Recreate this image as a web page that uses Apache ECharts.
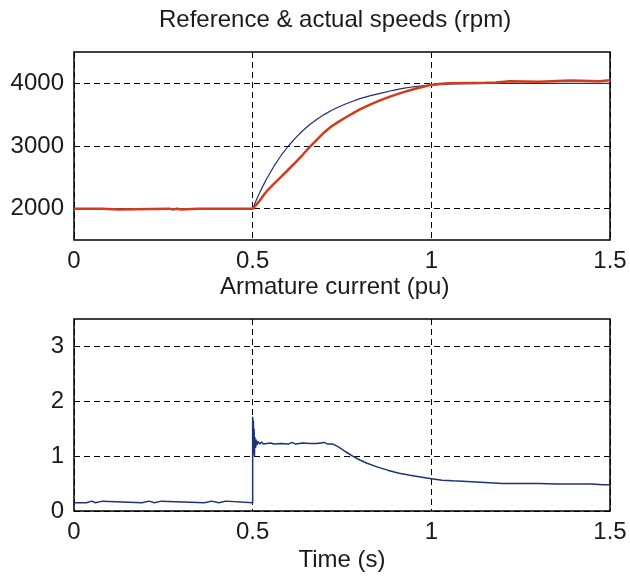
<!DOCTYPE html>
<html>
<head>
<meta charset="utf-8">
<script src="https://cdn.jsdelivr.net/npm/echarts@6/dist/echarts.min.js"></script>
<style>html,body{margin:0;padding:0;background:#fff}#c{width:630px;height:583px}</style>
</head>
<body>
<div id="c"></div>
<script>
// Speed reference (rpm)
const refT = [0, 0.5, 0.51, 0.52, 0.53, 0.54, 0.56, 0.58, 0.60, 0.62, 0.64, 0.66, 0.68, 0.70, 0.72, 0.74, 0.76, 0.78, 0.80, 0.83, 0.86, 0.89, 0.92, 0.95, 0.98, 1.02, 1.06, 1.10, 1.20, 1.30, 1.40, 1.50];
const refV = [2000, 2000, 2134, 2260, 2376, 2486, 2682, 2853, 3000, 3130, 3243, 3342, 3427, 3501, 3566, 3622, 3671, 3714, 3755, 3805, 3845, 3885, 3920, 3945, 3965, 3980, 3990, 3996, 4000, 4000, 4000, 4000];
// Actual speed (rpm)
const actT = [0, 0.079, 0.08, 0.125, 0.126, 0.268, 0.269, 0.275, 0.276, 0.289, 0.29, 0.292, 0.293, 0.3, 0.301, 0.347, 0.348, 0.35, 0.351, 0.5, 0.51, 0.52, 0.53, 0.54, 0.56, 0.58, 0.60, 0.62, 0.64, 0.66, 0.68, 0.70, 0.72, 0.74, 0.76, 0.78, 0.80, 0.83, 0.86, 0.89, 0.92, 0.95, 0.98, 1.00, 1.02, 1.05, 1.10, 1.15, 1.18, 1.181, 1.22, 1.221, 1.30, 1.301, 1.39, 1.391, 1.47, 1.471, 1.50];
const actV = [2000, 2000, 1985, 1985, 2000, 2000, 1988, 1988, 2000, 2000, 2014, 2014, 1986, 1986, 2000, 2000, 2016, 2016, 2000, 2000, 2060, 2130, 2210, 2283, 2400, 2510, 2625, 2740, 2860, 2985, 3100, 3216, 3310, 3385, 3455, 3520, 3585, 3665, 3735, 3800, 3855, 3905, 3950, 3975, 3990, 4000, 4005, 4010, 4015, 4035, 4035, 4020, 4025, 4045, 4045, 4030, 4035, 4050, 4050];
// Armature current (pu)
const curT = [0, 0.035, 0.035, 0.05, 0.05, 0.06, 0.06, 0.08, 0.08, 0.19, 0.19, 0.21, 0.21, 0.225, 0.225, 0.245, 0.245, 0.365, 0.365, 0.385, 0.385, 0.405, 0.405, 0.425, 0.425, 0.5, 0.5, 0.501, 0.502, 0.503, 0.504, 0.505, 0.506, 0.508, 0.51, 0.512, 0.515, 0.52, 0.525, 0.53, 0.55, 0.56, 0.58, 0.60, 0.61, 0.62, 0.64, 0.66, 0.68, 0.70, 0.71, 0.725, 0.74, 0.76, 0.78, 0.80, 0.82, 0.85, 0.88, 0.91, 0.94, 0.97, 1.00, 1.03, 1.06, 1.10, 1.15, 1.20, 1.25, 1.30, 1.35, 1.40, 1.45, 1.48, 1.50];
const curV = [0.15, 0.15, 0.18, 0.18, 0.15, 0.15, 0.18, 0.18, 0.15, 0.15, 0.18, 0.18, 0.15, 0.15, 0.18, 0.18, 0.15, 0.15, 0.18, 0.18, 0.15, 0.15, 0.18, 0.18, 0.15, 0.15, 1.72, 1.30, 1.65, 1.05, 1.50, 1.00, 1.35, 1.15, 1.30, 1.20, 1.27, 1.22, 1.26, 1.22, 1.24, 1.22, 1.23, 1.22, 1.25, 1.22, 1.24, 1.23, 1.23, 1.25, 1.22, 1.22, 1.17, 1.08, 1.00, 0.93, 0.87, 0.80, 0.74, 0.69, 0.65, 0.62, 0.59, 0.56, 0.55, 0.54, 0.52, 0.50, 0.50, 0.50, 0.49, 0.49, 0.49, 0.48, 0.48];

const titles = ['Reference & actual speeds (rpm)', 'Armature current (pu)'];
const xName = 'Time (s)';

const zip = (t, v) => t.map((x, i) => [x, v[i]]);
const FONT = 'Liberation Sans, Arial, sans-serif';
const TXT = '#1a1a1a';
const grid = { show: true, borderColor: '#000', borderWidth: 1.5, backgroundColor: '#fff' };
const dash = { type: [6, 4], width: 1 };

const xAxisBase = (gi) => ({
  type: 'value', gridIndex: gi, min: 0, max: 1.5, interval: 0.5,
  axisLine: { show: false }, axisTick: { show: false },
  axisLabel: { fontSize: 24, fontFamily: FONT, color: TXT, margin: 9 },
  splitLine: { show: true, lineStyle: Object.assign({ color: '#000' }, dash) }
});

const chart = echarts.init(document.getElementById('c'), null, { renderer: 'canvas' });
chart.setOption({
  animation: false,
  backgroundColor: '#fff',
  title: [
    { text: titles[0], left: 159, top: 8, padding: 0, textStyle: { fontSize: 24, fontWeight: 'normal', fontFamily: FONT, color: TXT } },
    { text: titles[1], left: 220, top: 275, padding: 0, textStyle: { fontSize: 24, fontWeight: 'normal', fontFamily: FONT, color: TXT } }
  ],
  grid: [
    Object.assign({ left: 74, right: 20, top: 52, bottom: 343 }, grid),
    Object.assign({ left: 74, right: 20, top: 319, bottom: 72 }, grid)
  ],
  xAxis: [
    xAxisBase(0),
    Object.assign(xAxisBase(1), {
      name: xName, nameLocation: 'middle', nameGap: 37,
      nameTextStyle: { fontSize: 24, fontFamily: FONT, color: TXT }
    })
  ],
  yAxis: [
    {
      type: 'value', gridIndex: 0, min: 1500, max: 4500, interval: 500,
      axisLine: { show: false }, axisTick: { show: false },
      axisLabel: { fontSize: 24, fontFamily: FONT, color: TXT, margin: 10,
        formatter: v => (v % 1000 === 0 ? String(v) : '') },
      splitLine: { show: true, lineStyle: Object.assign({ color: ['rgba(0,0,0,0)', '#000'] }, dash) }
    },
    {
      type: 'value', gridIndex: 1, min: 0, max: 3.5, interval: 0.5,
      axisLine: { show: false }, axisTick: { show: false },
      axisLabel: { fontSize: 24, fontFamily: FONT, color: TXT, margin: 10,
        formatter: v => (Number.isInteger(v) ? String(v) : '') },
      splitLine: { show: true, lineStyle: Object.assign({ color: ['#000', 'rgba(0,0,0,0)'] }, dash) }
    }
  ],
  series: [
    { name: 'Reference', type: 'line', xAxisIndex: 0, yAxisIndex: 0, data: zip(refT, refV),
      showSymbol: false, lineStyle: { color: '#1e2f7c', width: 1.2 }, z: 2 },
    { name: 'Actual', type: 'line', xAxisIndex: 0, yAxisIndex: 0, data: zip(actT, actV),
      showSymbol: false, lineStyle: { color: '#d23c1b', width: 2.5 }, z: 3 },
    { name: 'Current', type: 'line', xAxisIndex: 1, yAxisIndex: 1, data: zip(curT, curV),
      showSymbol: false, lineStyle: { color: '#1f3274', width: 1.5 }, z: 2 }
  ]
});
</script>
</body>
</html>
